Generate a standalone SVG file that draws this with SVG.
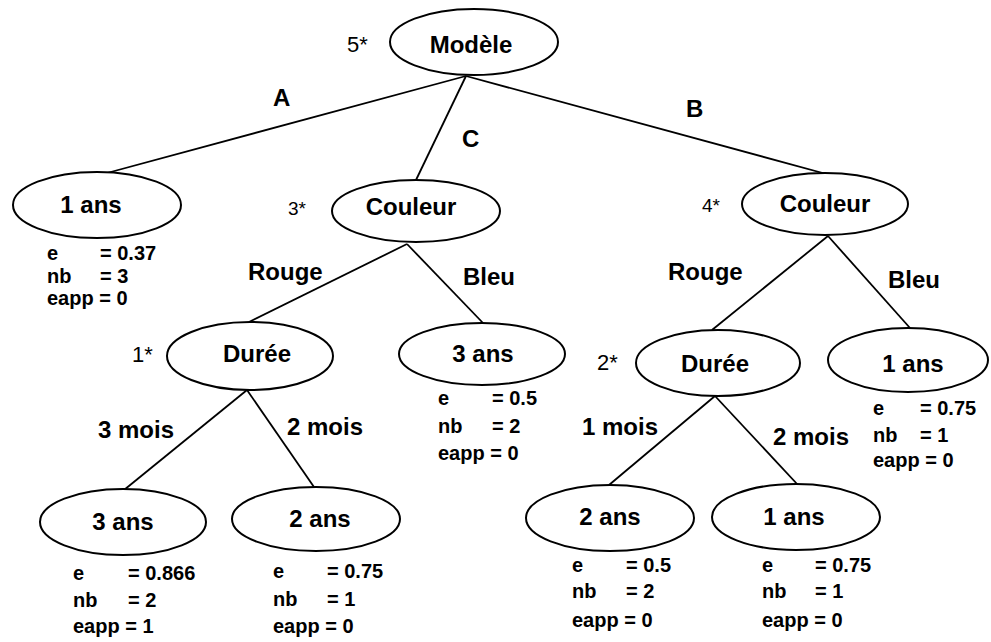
<svg xmlns="http://www.w3.org/2000/svg" width="991" height="642" viewBox="0 0 991 642">
<style>
.bg{fill:#fff}
ellipse{fill:#fff;stroke:#000;stroke-width:2}
.n{font-family:"Liberation Sans",Arial,sans-serif;font-weight:bold;font-size:24px;text-anchor:middle;fill:#000}
.el{font-family:"Liberation Sans",Arial,sans-serif;font-weight:bold;font-size:24px;fill:#000}
.st{font-family:"Liberation Sans",Arial,sans-serif;font-weight:bold;font-size:20px;fill:#000}
.mk{font-family:"Liberation Sans",Arial,sans-serif;font-size:22px;fill:#000}
.mk2{font-family:"Liberation Sans",Arial,sans-serif;font-size:19px;fill:#000}
#connectors line{stroke:#000;stroke-width:1.8}
</style>
<rect class="bg" x="0" y="0" width="991" height="642"/>
<g id="connectors">
<line x1="466" y1="76" x2="107" y2="173"/>
<line x1="466" y1="76" x2="416" y2="180"/>
<line x1="466" y1="76" x2="830" y2="175"/>
<line x1="407" y1="244" x2="249" y2="322"/>
<line x1="407" y1="244" x2="483" y2="323"/>
<line x1="828" y1="236" x2="712" y2="330"/>
<line x1="828" y1="236" x2="910" y2="328"/>
<line x1="247" y1="390" x2="124" y2="490"/>
<line x1="247" y1="390" x2="314" y2="487"/>
<line x1="715" y1="396" x2="609" y2="485"/>
<line x1="715" y1="396" x2="798" y2="485"/>
<text class="el" x="273" y="106">A</text>
<text class="el" x="462" y="147">C</text>
<text class="el" x="686" y="117">B</text>
<text class="el" x="248" y="280">Rouge</text>
<text class="el" x="463" y="285">Bleu</text>
<text class="el" x="668" y="280">Rouge</text>
<text class="el" x="888" y="288">Bleu</text>
<text class="el" x="98" y="438">3 mois</text>
<text class="el" x="287" y="435">2 mois</text>
<text class="el" x="582" y="435">1 mois</text>
<text class="el" x="773" y="445">2 mois</text>
</g>
<g id="n-modele">
<ellipse cx="474" cy="42" rx="84" ry="33"/>
<text class="n" x="471" y="53">Modèle</text>
<text class="mk" x="347" y="52">5*</text>
</g>
<g id="n-1ans-a">
<ellipse cx="97" cy="205" rx="84" ry="33"/>
<text class="n" x="91" y="213">1 ans</text>
<text class="st" x="47" y="260">e</text><text class="st" x="100" y="260">= 0.37</text>
<text class="st" x="47" y="283">nb</text><text class="st" x="100" y="283">= 3</text>
<text class="st" x="47" y="305">eapp = 0</text>
</g>
<g id="n-couleur-c">
<ellipse cx="416" cy="211" rx="84" ry="31"/>
<text class="n" x="411" y="215">Couleur</text>
<text class="mk2" x="288" y="215">3*</text>
</g>
<g id="n-couleur-b">
<ellipse cx="825" cy="204" rx="83" ry="31"/>
<text class="n" x="825" y="212">Couleur</text>
<text class="mk2" x="702" y="212">4*</text>
</g>
<g id="n-duree-1">
<ellipse cx="250" cy="356" rx="83" ry="34"/>
<text class="n" x="257" y="362">Durée</text>
<text class="mk" x="132" y="362">1*</text>
</g>
<g id="n-3ans-bleu">
<ellipse cx="482" cy="354" rx="83" ry="31"/>
<text class="n" x="483" y="362">3 ans</text>
<text class="st" x="438" y="405">e</text><text class="st" x="492" y="405">= 0.5</text>
<text class="st" x="438" y="433">nb</text><text class="st" x="492" y="433">= 2</text>
<text class="st" x="438" y="460">eapp = 0</text>
</g>
<g id="n-duree-2">
<ellipse cx="718" cy="363" rx="82" ry="33"/>
<text class="n" x="715" y="372">Durée</text>
<text class="mk" x="597" y="370">2*</text>
</g>
<g id="n-1ans-bleu">
<ellipse cx="908" cy="360" rx="80" ry="32"/>
<text class="n" x="913" y="372">1 ans</text>
<text class="st" x="873" y="415">e</text><text class="st" x="920" y="415">= 0.75</text>
<text class="st" x="873" y="442">nb</text><text class="st" x="920" y="442">= 1</text>
<text class="st" x="873" y="467">eapp = 0</text>
</g>
<g id="n-3ans-3mois">
<ellipse cx="123" cy="522" rx="83" ry="33"/>
<text class="n" x="123" y="530">3 ans</text>
<text class="st" x="73" y="580">e</text><text class="st" x="128" y="580">= 0.866</text>
<text class="st" x="73" y="607">nb</text><text class="st" x="128" y="607">= 2</text>
<text class="st" x="73" y="633">eapp = 1</text>
</g>
<g id="n-2ans-2mois">
<ellipse cx="316" cy="519" rx="84" ry="32"/>
<text class="n" x="320" y="527">2 ans</text>
<text class="st" x="273" y="578">e</text><text class="st" x="327" y="578">= 0.75</text>
<text class="st" x="273" y="606">nb</text><text class="st" x="327" y="606">= 1</text>
<text class="st" x="273" y="633">eapp = 0</text>
</g>
<g id="n-2ans-1mois">
<ellipse cx="610" cy="518" rx="84" ry="33"/>
<text class="n" x="610" y="525">2 ans</text>
<text class="st" x="572" y="572">e</text><text class="st" x="626" y="572">= 0.5</text>
<text class="st" x="572" y="598">nb</text><text class="st" x="626" y="598">= 2</text>
<text class="st" x="572" y="627">eapp = 0</text>
</g>
<g id="n-1ans-2mois">
<ellipse cx="796" cy="517" rx="84" ry="33"/>
<text class="n" x="794" y="525">1 ans</text>
<text class="st" x="762" y="572">e</text><text class="st" x="815" y="572">= 0.75</text>
<text class="st" x="762" y="598">nb</text><text class="st" x="815" y="598">= 1</text>
<text class="st" x="762" y="627">eapp = 0</text>
</g>
</svg>
